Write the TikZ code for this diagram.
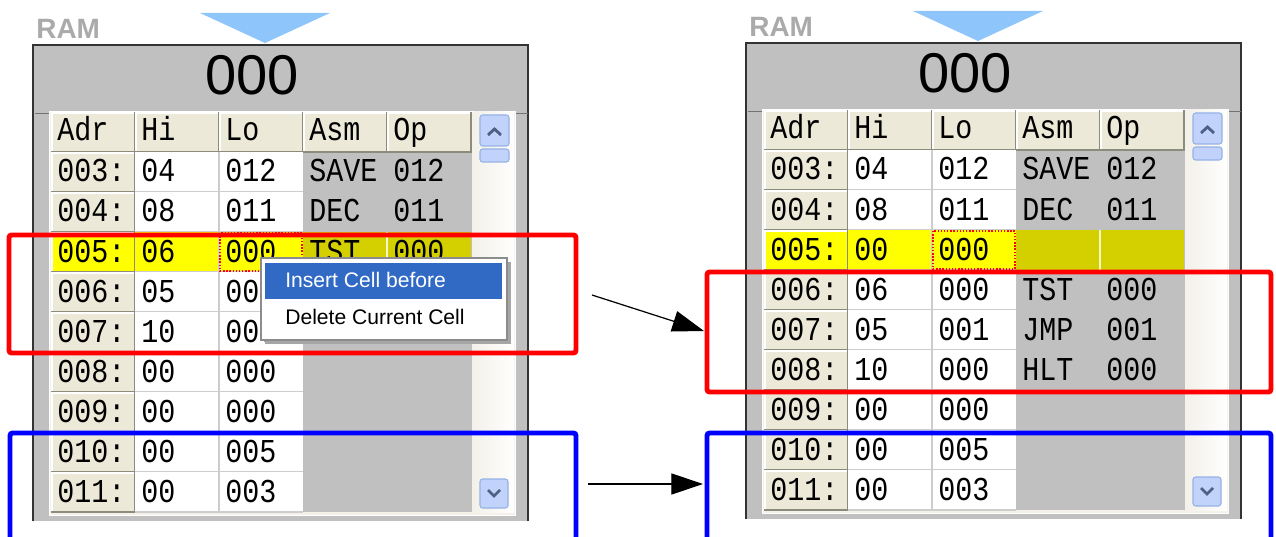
\documentclass[tikz,border=0pt]{standalone}
\usepackage{fontspec}
\setmainfont{Liberation Sans}
\newfontfamily\cellfont[FakeStretch=0.85]{Liberation Mono}
\usetikzlibrary{arrows.meta}

\definecolor{panelgray}{RGB}{192,192,192}
\definecolor{adrbg}{RGB}{236,233,216}
\definecolor{adredge}{RGB}{140,140,125}
\definecolor{gridgray}{RGB}{205,205,205}
\definecolor{selyel}{RGB}{255,255,0}
\definecolor{selolive}{RGB}{212,208,0}
\definecolor{menublue}{RGB}{49,106,197}
\definecolor{pointerblue}{RGB}{142,197,250}
\definecolor{ramgray}{RGB}{170,170,170}
\definecolor{scrollcream}{RGB}{243,241,234}
\definecolor{btnblue}{RGB}{193,211,251}
\definecolor{btnedge}{RGB}{150,178,228}
\definecolor{chevron}{RGB}{77,97,133}

\tikzset{
  ramlabel/.style={font=\fontsize{15.9}{16}\selectfont\bfseries, text=ramgray, inner sep=0pt},
  bignum/.style={font=\fontsize{31.9}{32}\selectfont, inner sep=0pt},
  celltxt/.style={font=\cellfont\fontsize{19}{20}\selectfont, anchor=base west, inner sep=0pt},
  menutxt/.style={font=\fontsize{12}{13}\selectfont, anchor=base west, inner sep=0pt},
  frameline/.style={draw=black!80, line width=0.8pt},
  grid/.style={draw=gridgray, line width=0.6pt},
  btn/.style={fill=btnblue, draw=btnedge, rounded corners=1.5pt, line width=0.6pt},
  chev/.style={draw=chevron, line width=1.6pt},
  hlbox/.style={line width=2.8pt, rounded corners=1.5pt},
  flow/.style={-{Triangle[length=18pt,width=12pt]}, line width=0.7pt},
}

% frame of one RAM window: label, pointer, display, header, scrollbar
\newcommand{\ramframe}[1]{%
  \node[ramlabel] (#1-ram) at (36,39) [anchor=base west] {RAM};
  \fill[pointerblue] (200,13) -- (330,13) -- (265,43) -- cycle;
  \fill[panelgray] (33,45) rectangle (528,521);
  \draw[frameline] (33,521) -- (33,45) -- (528,45) -- (528,521);
  \draw[black!55] (35,113) -- (528,113);
  \node[bignum, anchor=base] (#1-pc) at (252,95) {000};
  \fill[white] (49,111) rectangle (516,516);
  \fill[scrollcream] (50,112) rectangle (515,515);
  \fill[panelgray] (303,152) rectangle (472,512);
  \foreach \t [count=\c from 0] in {Adr,Hi,Lo,Asm,Op} {
    \pgfmathsetmacro\cx{51+84*\c}
    \fill[adrbg] (\cx,112) rectangle (\cx+84,152);
    \draw[white, line width=0.8pt] (\cx+1,151) -- (\cx+1,113) -- (\cx+83,113);
    \draw[adredge, line width=0.8pt] (\cx,152) -- (\cx+84,152) -- (\cx+84,112);
    \node[celltxt] (#1-h\c) at (\cx+6,141) {\t};
  }
  \shade[left color=scrollcream, right color=white!95!scrollcream] (474,112) rectangle (514,512);
  \draw[btn] (480,115) rectangle (509,146);
  \draw[btn] (480,149) rectangle (509,162);
  \draw[btn] (480,479) rectangle (508,508);
  \draw[chev] (488,135) -- (494.5,129) -- (501,135);
  \draw[chev] (488,490) -- (494,496) -- (500,490);
}

\begin{document}
\begin{tikzpicture}[x=0.02cm, y=-0.02cm]
  \useasboundingbox (0,0) rectangle (1276,537);

  % ---- before: left window ----
  \ramframe{L}
  \foreach \ad/\hi/\lo/\af/\cf [count=\i from 0] in {003/04/012/adrbg/white, 004/08/011/adrbg/white,
      005/06/000/selyel/selyel, 006/05/001/adrbg/white, 007/10/000/adrbg/white, 008/00/000/adrbg/white,
      009/00/000/adrbg/white, 010/00/005/adrbg/white, 011/00/003/adrbg/white} {
    \pgfmathsetmacro\rt{152+40*\i}
    \fill[\af] (51,\rt) rectangle (135,\rt+40);
    \draw[white, line width=0.8pt] (52,\rt+39) -- (52,\rt+1) -- (134,\rt+1);
    \draw[adredge, line width=0.8pt] (51,\rt+40) -- (135,\rt+40) -- (135,\rt);
    \fill[\cf] (135,\rt) rectangle (303,\rt+40);
    \draw[grid] (135,\rt+40) -- (303,\rt+40) (219,\rt) -- (219,\rt+40);
    \node[celltxt] (L-adr-\i) at (57,\rt+30) {\ad:};
    \node[celltxt] (L-hi-\i) at (141,\rt+30) {\hi};
    \node[celltxt] (L-lo-\i) at (225,\rt+30) {\lo};
  }
  \fill[selolive] (303,232) rectangle (471,272);
  \draw[white!80!selolive, line width=0.8pt] (387,232) -- (387,272);
  \draw[red, densely dotted, line width=0.8pt] (220,233) rectangle (302,271);
  \node[celltxt] (L-asm-0) at (309,182) {SAVE};
  \node[celltxt] (L-op-0) at (393,182) {012};
  \node[celltxt] (L-asm-1) at (309,222) {DEC};
  \node[celltxt] (L-op-1) at (393,222) {011};
  \node[celltxt] (L-asm-2) at (309,262) {TST};
  \node[celltxt] (L-op-2) at (393,262) {000};

  % context menu
  \fill[black!35] (265,262) rectangle (511,344);
  \draw[fill=white, draw=black!45, line width=0.6pt] (261,258) rectangle (507,340);
  \fill[menublue] (265,263) rectangle (502,299);
  \node[menutxt, text=white] (ins) at (285,288) {Insert Cell before};
  \node[menutxt] (del) at (285,324) {Delete Current Cell};

  % ---- after: right window ----
  \begin{scope}[shift={(713,-2)}]
    \ramframe{R}
    \foreach \ad/\hi/\lo/\af/\cf [count=\i from 0] in {003/04/012/adrbg/white, 004/08/011/adrbg/white,
        005/00/000/selyel/selyel, 006/06/000/adrbg/white, 007/05/001/adrbg/white, 008/10/000/adrbg/white,
        009/00/000/adrbg/white, 010/00/005/adrbg/white, 011/00/003/adrbg/white} {
      \pgfmathsetmacro\rt{152+40*\i}
      \fill[\af] (51,\rt) rectangle (135,\rt+40);
      \draw[white, line width=0.8pt] (52,\rt+39) -- (52,\rt+1) -- (134,\rt+1);
      \draw[adredge, line width=0.8pt] (51,\rt+40) -- (135,\rt+40) -- (135,\rt);
      \fill[\cf] (135,\rt) rectangle (303,\rt+40);
      \draw[grid] (135,\rt+40) -- (303,\rt+40) (219,\rt) -- (219,\rt+40);
      \node[celltxt] (R-adr-\i) at (57,\rt+30) {\ad:};
      \node[celltxt] (R-hi-\i) at (141,\rt+30) {\hi};
      \node[celltxt] (R-lo-\i) at (225,\rt+30) {\lo};
    }
    \fill[selolive] (303,232) rectangle (471,272);
    \draw[white!80!selolive, line width=0.8pt] (387,232) -- (387,272);
    \draw[red, densely dotted, line width=0.8pt] (220,233) rectangle (302,271);
    \foreach \as/\op [count=\i from 0] in {SAVE/012, DEC/011, {}/{}, TST/000, JMP/001, HLT/000} {
      \pgfmathsetmacro\rt{152+40*\i}
      \node[celltxt] (R-asm-\i) at (309,\rt+30) {\as};
      \node[celltxt] (R-op-\i) at (393,\rt+30) {\op};
    }
  \end{scope}

  % ---- marked regions ----
  \draw[hlbox, red] (9,235) rectangle (576,353);
  \draw[hlbox, red] (707,272) rectangle (1271,392);
  \draw[hlbox, blue] (10,545) -- (10,433) -- (576,433) -- (576,545);
  \draw[hlbox, blue] (707,545) -- (707,433) -- (1271,433) -- (1271,545);

  \coordinate (a1s) at (592,295);
  \coordinate (a1e) at (704,331);
  \coordinate (a2s) at (588,484);
  \coordinate (a2e) at (703,484);
  \draw[flow] (a1s) -- (a1e);
  \draw[flow] (a2s) -- (a2e);
\end{tikzpicture}
\end{document}
